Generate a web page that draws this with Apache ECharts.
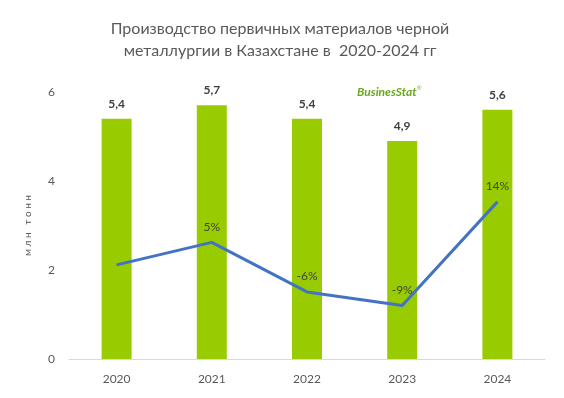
<!DOCTYPE html>
<html>
<head>
<meta charset="utf-8">
<script src="https://cdn.jsdelivr.net/npm/echarts@6/dist/echarts.min.js"></script>
<style>
  html, body { margin: 0; padding: 0; background: #fff; }
  #chart { width: 564px; height: 398px; }
</style>
</head>
<body>
<div id="chart"></div>
<script>
const years = ['2020', '2021', '2022', '2023', '2024'];
const output = [5.4, 5.7, 5.4, 4.9, 5.6];
const growth = [0, 5, -6, -9, 14];
const growthShown = [false, true, true, true, true];

const chart = echarts.init(document.getElementById('chart'));
chart.setOption({
  animation: false,
  textStyle: { fontFamily: 'Lato, Open Sans, sans-serif' },
  title: {
    text: 'Производство первичных материалов черной\nметаллургии в Казахстане в  2020-2024 гг',
    left: 275,
    textAlign: 'center',
    top: 13,
    textStyle: { fontSize: 16, fontWeight: 'normal', color: '#595959', lineHeight: 22, fontFamily: 'Lato, sans-serif' }
  },
  graphic: [{
    type: 'text',
    left: 357,
    top: 86,
    style: {
      text: 'BusinesStat',
      fill: '#6aa81e',
      font: 'italic bold 12px Lato, sans-serif'
    }
  }, {
    type: 'text',
    left: 417,
    top: 85,
    style: { text: '®', fill: '#6aa81e', font: '6px sans-serif' }
  }],
  grid: { left: 69, right: 19, top: 92, bottom: 39 },
  xAxis: {
    type: 'category',
    data: years,
    axisTick: { show: false },
    axisLine: { lineStyle: { color: '#d9d9d9', width: 1 } },
    axisLabel: { color: '#595959', fontSize: 12, margin: 14 }
  },
  yAxis: [{
    type: 'value',
    min: 0, max: 6, interval: 2,
    name: 'м л н   т о н н',
    nameLocation: 'middle',
    nameRotate: 90,
    nameGap: 36,
    nameTextStyle: { color: '#595959', fontSize: 10 },
    splitLine: { show: false },
    axisLine: { show: false },
    axisTick: { show: false },
    axisLabel: { color: '#595959', fontSize: 12, margin: 14 }
  }, {
    type: 'value',
    min: -20.9, max: 38.4,
    show: false,
    splitLine: { show: false }
  }],
  series: [{
    type: 'bar',
    data: output,
    barWidth: 30,
    itemStyle: { color: '#99cc00' },
    label: {
      show: true,
      position: 'top',
      distance: 9,
      color: '#404040',
      fontSize: 12,
      fontWeight: 'bold',
      formatter: p => String(p.value).replace('.', ',')
    }
  }, {
    type: 'line',
    yAxisIndex: 1,
    data: growth,
    symbol: 'circle',
    symbolSize: 1,
    showSymbol: true,
    itemStyle: { color: '#4472c4' },
    lineStyle: { color: '#4472c4', width: 3 },
    label: {
      show: true,
      position: 'top',
      distance: 9,
      color: '#404040',
      fontSize: 12,
      formatter: p => growthShown[p.dataIndex] ? p.value + '%' : ''
    }
  }]
});
</script>
</body>
</html>
